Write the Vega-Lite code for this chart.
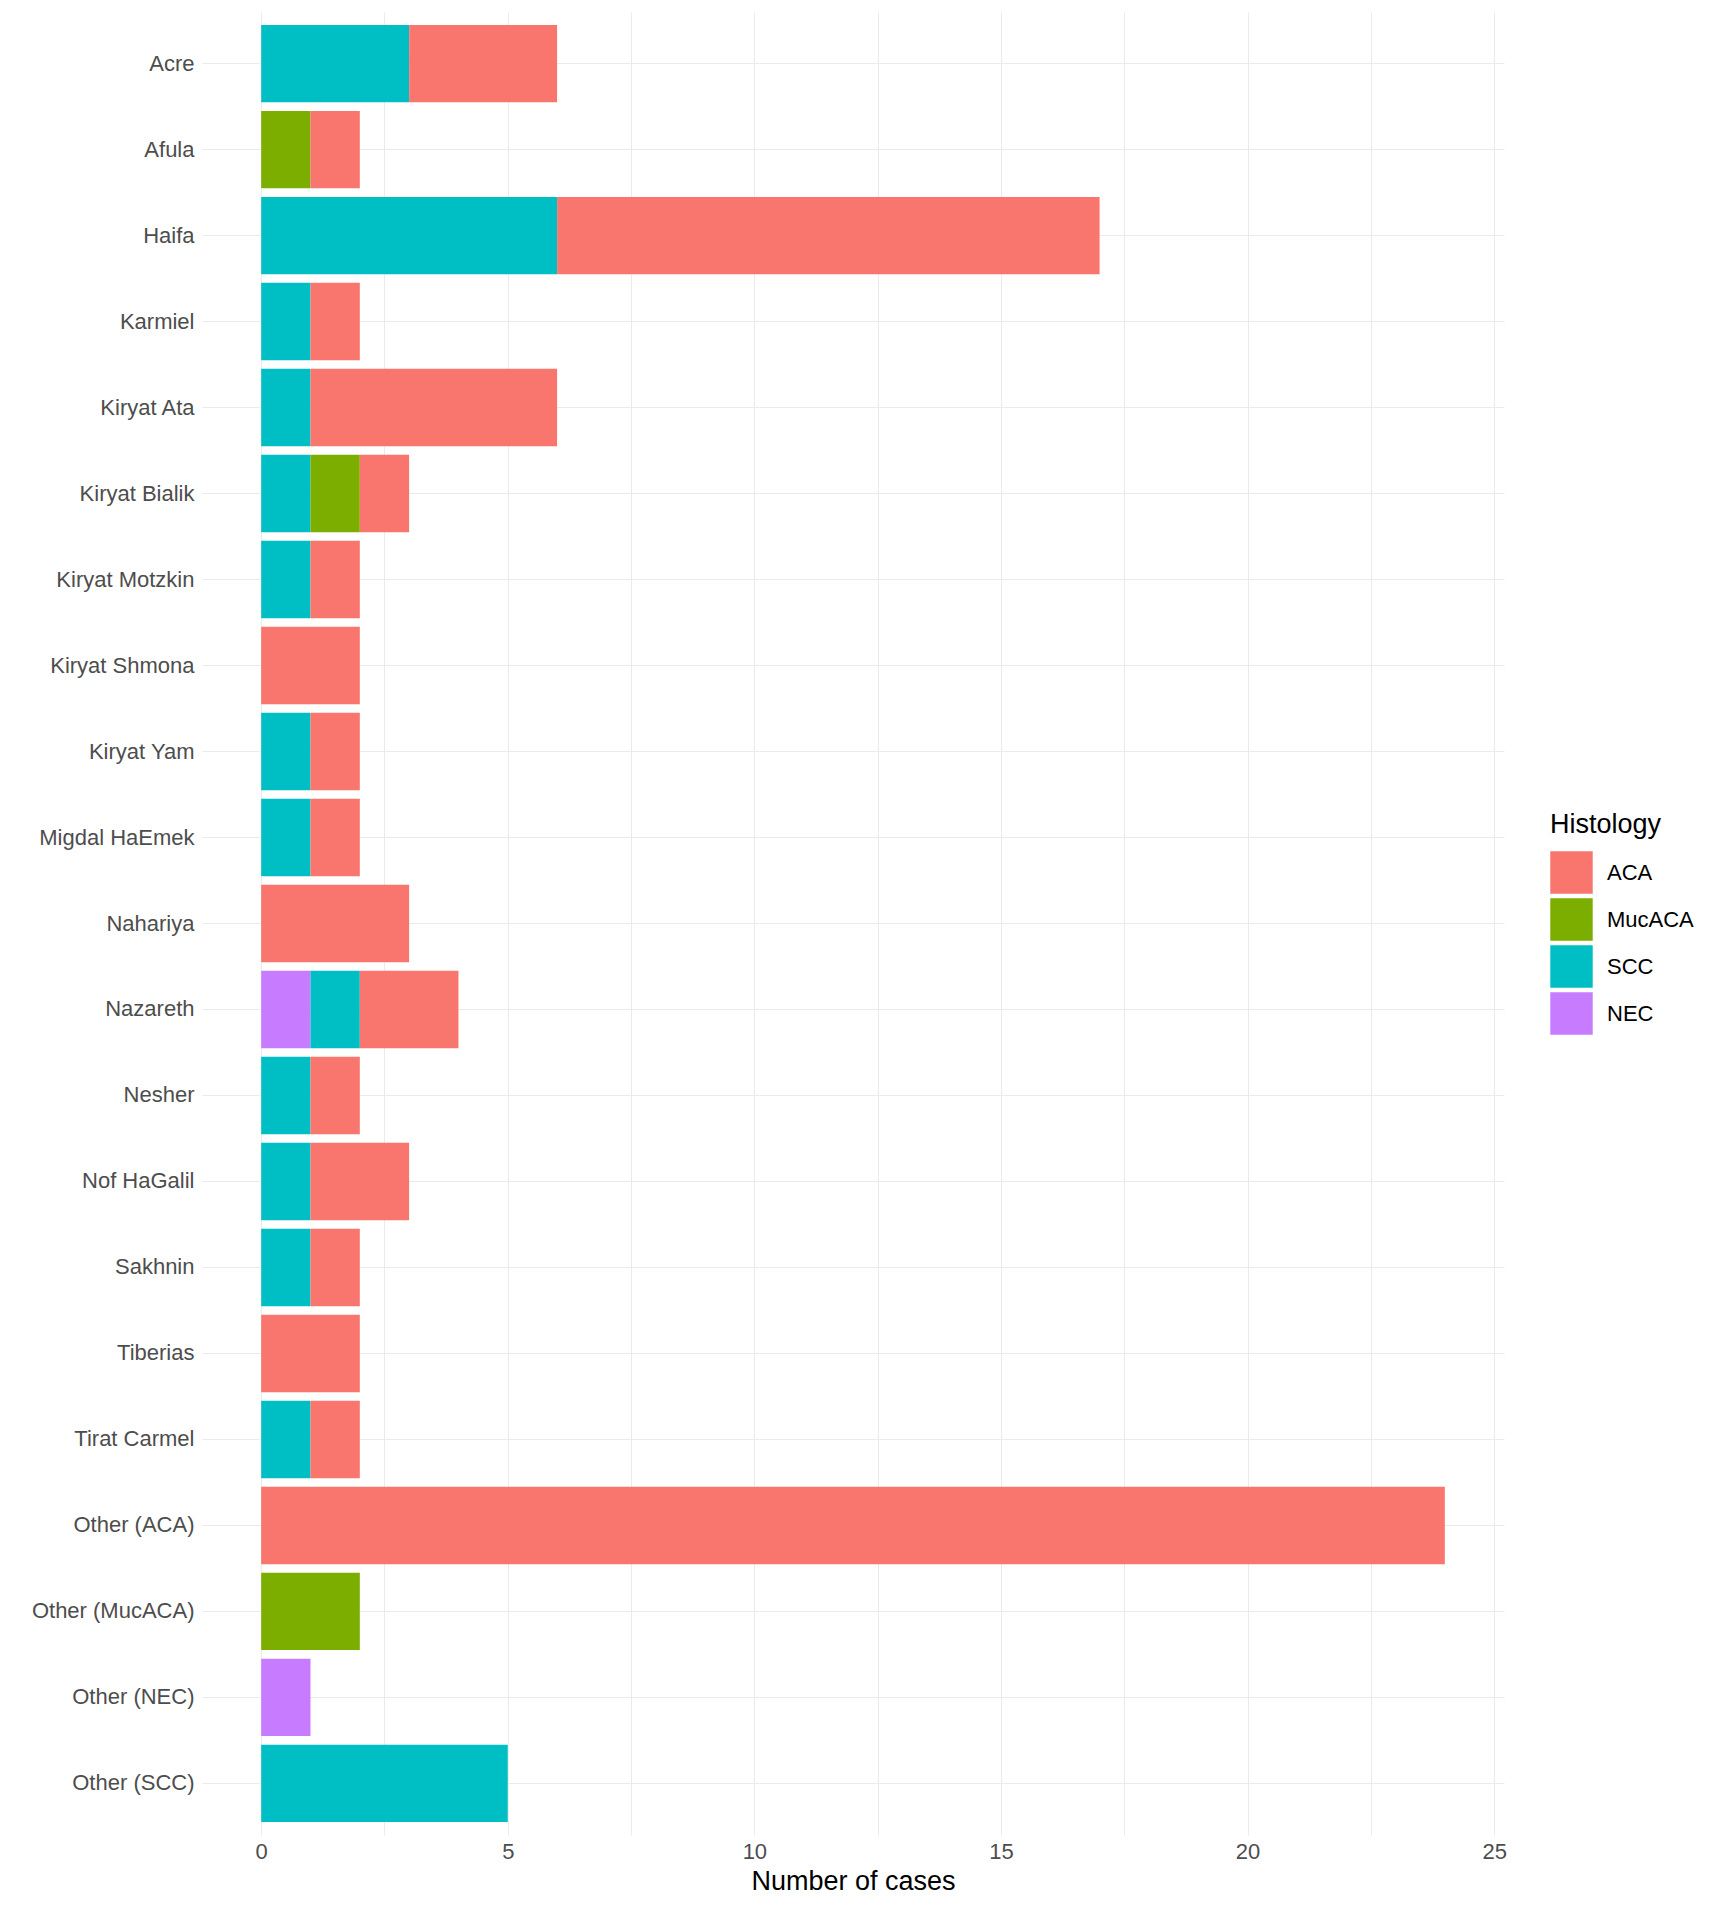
{
  "$schema": "https://vega.github.io/schema/vega-lite/v6.json",
  "width": 1302,
  "height": 1823,
  "autosize": "none",
  "padding": {"left": 202, "top": 12, "right": 224, "bottom": 85},
  "background": "white",
  "config": {"font": "Liberation Sans", "view": {"stroke": null}},
  "data": {
    "values": [
      {"City": "Acre", "Histology": "SCC", "Cases": 3},
      {"City": "Acre", "Histology": "ACA", "Cases": 3},
      {"City": "Afula", "Histology": "MucACA", "Cases": 1},
      {"City": "Afula", "Histology": "ACA", "Cases": 1},
      {"City": "Haifa", "Histology": "SCC", "Cases": 6},
      {"City": "Haifa", "Histology": "ACA", "Cases": 11},
      {"City": "Karmiel", "Histology": "SCC", "Cases": 1},
      {"City": "Karmiel", "Histology": "ACA", "Cases": 1},
      {"City": "Kiryat Ata", "Histology": "SCC", "Cases": 1},
      {"City": "Kiryat Ata", "Histology": "ACA", "Cases": 5},
      {"City": "Kiryat Bialik", "Histology": "SCC", "Cases": 1},
      {"City": "Kiryat Bialik", "Histology": "MucACA", "Cases": 1},
      {"City": "Kiryat Bialik", "Histology": "ACA", "Cases": 1},
      {"City": "Kiryat Motzkin", "Histology": "SCC", "Cases": 1},
      {"City": "Kiryat Motzkin", "Histology": "ACA", "Cases": 1},
      {"City": "Kiryat Shmona", "Histology": "ACA", "Cases": 2},
      {"City": "Kiryat Yam", "Histology": "SCC", "Cases": 1},
      {"City": "Kiryat Yam", "Histology": "ACA", "Cases": 1},
      {"City": "Migdal HaEmek", "Histology": "SCC", "Cases": 1},
      {"City": "Migdal HaEmek", "Histology": "ACA", "Cases": 1},
      {"City": "Nahariya", "Histology": "ACA", "Cases": 3},
      {"City": "Nazareth", "Histology": "NEC", "Cases": 1},
      {"City": "Nazareth", "Histology": "SCC", "Cases": 1},
      {"City": "Nazareth", "Histology": "ACA", "Cases": 2},
      {"City": "Nesher", "Histology": "SCC", "Cases": 1},
      {"City": "Nesher", "Histology": "ACA", "Cases": 1},
      {"City": "Nof HaGalil", "Histology": "SCC", "Cases": 1},
      {"City": "Nof HaGalil", "Histology": "ACA", "Cases": 2},
      {"City": "Sakhnin", "Histology": "SCC", "Cases": 1},
      {"City": "Sakhnin", "Histology": "ACA", "Cases": 1},
      {"City": "Tiberias", "Histology": "ACA", "Cases": 2},
      {"City": "Tirat Carmel", "Histology": "SCC", "Cases": 1},
      {"City": "Tirat Carmel", "Histology": "ACA", "Cases": 1},
      {"City": "Other (ACA)", "Histology": "ACA", "Cases": 24},
      {"City": "Other (MucACA)", "Histology": "MucACA", "Cases": 2},
      {"City": "Other (NEC)", "Histology": "NEC", "Cases": 1},
      {"City": "Other (SCC)", "Histology": "SCC", "Cases": 5}
    ]
  },
  "transform": [
    {"calculate": "indexof(['NEC','SCC','MucACA','ACA'], datum.Histology)", "as": "stackOrder"}
  ],
  "mark": {"type": "bar"},
  "encoding": {
    "y": {
      "field": "City",
      "type": "nominal",
      "sort": null,
      "scale": {"paddingInner": 0.1, "paddingOuter": 0.15},
      "axis": {
        "title": null, "domain": false, "ticks": false,
        "labelFontSize": 22, "labelColor": "#4d4d4d", "labelPadding": 8,
        "gridColor": "#ebebeb", "grid": true, "bandPosition": 0.5
      }
    },
    "x": {
      "field": "Cases",
      "type": "quantitative",
      "stack": "zero",
      "scale": {"domain": [-1.2, 25.2], "nice": false, "zero": false},
      "axis": {
        "title": "Number of cases", "titleFontSize": 27, "titleFontWeight": "normal",
        "titleColor": "black", "titlePadding": 6,
        "values": [0, 2.5, 5, 7.5, 10, 12.5, 15, 17.5, 20, 22.5, 25],
        "labelExpr": "datum.value % 5 == 0 ? datum.label : ''",
        "domain": false, "ticks": false, "labelFontSize": 22, "labelColor": "#4d4d4d",
        "gridColor": "#ebebeb", "labelPadding": 6
      }
    },
    "color": {
      "field": "Histology",
      "type": "nominal",
      "scale": {
        "domain": ["ACA", "MucACA", "SCC", "NEC"],
        "range": ["#F8766D", "#7CAE00", "#00BFC4", "#C77CFF"]
      },
      "legend": {
        "orient": "none", "legendX": 1348, "legendY": 800,
        "titleFontSize": 27, "titleFontWeight": "normal", "titleColor": "black",
        "labelFontSize": 22, "labelColor": "black",
        "symbolType": "square", "symbolSize": 1800, "symbolStrokeWidth": 0,
        "rowPadding": 4, "titlePadding": 12, "labelOffset": 14
      }
    },
    "order": {"field": "stackOrder", "type": "quantitative"}
  }
}
